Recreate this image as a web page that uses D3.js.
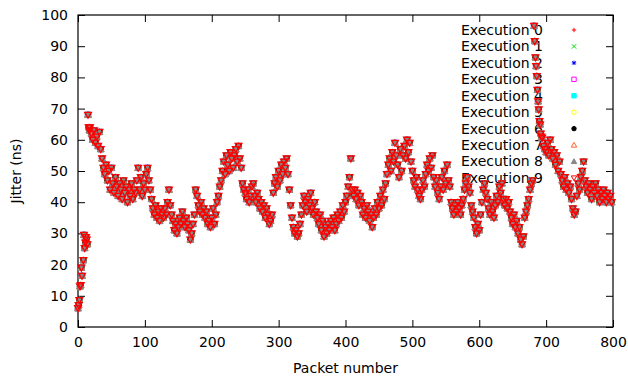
<!DOCTYPE html>
<html>
<head>
<meta charset="utf-8">
<script src="https://cdn.jsdelivr.net/npm/d3@7"></script>
<style>
  body { margin: 0; background: #fff; }
  text { font-family: "DejaVu Sans", sans-serif; font-size: 14px; fill: #000; }
</style>
</head>
<body>
<div class="jitterChart"></div>
<script>
// --- data ------------------------------------------------------------
const executions = ["Execution 0", "Execution 1", "Execution 2", "Execution 3", "Execution 4",
                    "Execution 5", "Execution 6", "Execution 7", "Execution 8", "Execution 9"];
const packetStep = 2;   // jitter[i] belongs to packet i * packetStep
const jitter = [
  6, 8.6, 13.4, 16.4, 21.4, 25.3, 28.8, 26.5, 64, 64, 62, 60, 63, 59, 61, 58, 62.5, 57, 54, 51,
  49, 52, 47, 50, 44, 51, 46, 43, 48, 45, 42, 46, 44, 41, 47, 43, 45, 40, 44, 42,
  46, 41, 44, 43, 47, 51, 44, 48, 42, 46, 44, 49, 51, 47, 44, 41, 38, 36, 39, 35,
  37, 34, 38, 36, 35, 38, 36, 40, 44, 39, 36, 34, 31, 33, 30, 32, 35, 33, 37, 34,
  32, 35, 33, 31, 28, 30, 33, 36, 44, 42, 39, 37, 40, 36, 38, 35, 37, 33, 34, 32,
  35, 38, 33, 36, 40, 42, 45, 47, 50, 53, 49, 55, 52, 50, 56, 54, 51, 55, 57, 53,
  58, 54, 51, 46, 44, 43, 41, 44, 40, 42, 45, 46, 42, 40, 43, 41, 38, 40, 37, 39,
  35, 38, 36, 33, 34, 36, 43, 46, 48, 45, 50, 47, 52, 49, 53, 51, 54, 49, 44, 39,
  35, 32, 30, 31, 29, 30, 33, 36, 39, 42, 40, 37, 41, 39, 43, 38, 36, 40, 37, 35,
  33, 36, 31, 34, 29, 32, 30, 33, 31, 34, 32, 35, 31, 33, 36, 34, 37, 35, 39, 37,
  40, 42, 45, 48, 54, 44, 42, 44, 41, 43, 39, 42, 40, 36, 38, 35, 39, 37, 34, 36,
  32, 35, 38, 36, 40, 38, 42, 39, 44, 41, 46, 49, 52, 54, 50, 56, 53, 59, 55, 52,
  48, 57, 50, 55, 58, 54, 60, 56, 59, 53, 50, 47, 45, 48, 44, 42, 41, 44, 47, 45,
  49, 52, 50, 54, 51, 55, 48, 45, 47, 43, 41, 45, 48, 44, 50, 46, 52, 47, 45, 40,
  38, 36, 39, 37, 40, 38, 36, 39, 41, 44, 46, 48, 45, 43, 39, 37, 35, 32, 30, 33,
  31, 36, 40, 44, 46, 43, 41, 38, 36, 40, 37, 35, 39, 42, 40, 45, 43, 46, 41, 39,
  41, 38, 40, 37, 35, 33, 36, 32, 34, 30, 32, 28, 26.5, 29, 35, 37, 39, 41, 44, 46,
  47, 96.5, 86.4, 80.4, 72.3, 66, 62, 60.6, 58, 57, 56, 59, 55, 60, 57, 54, 56, 52, 55, 50,
  53, 49, 47, 45, 48, 44, 46, 43, 45, 41, 38, 36, 37, 42, 46, 44, 48, 50, 53, 47,
  45, 43, 46, 44, 41, 45, 43, 46, 42, 44, 40, 43, 41, 44, 42, 40, 43, 41, 42, 40
];
// odd packets where the picture shows more detail
const extraPackets = [1, 3, 5, 9, 11, 13, 15, 17, 683, 685, 687, 689, 691, 693];
const extraJitter  = [7, 13, 19, 29.5, 27, 28, 68, 63, 91.6, 83.6, 76, 69.7, 64.9, 61];
const xTicks = [0, 100, 200, 300, 400, 500, 600, 700, 800];
const yTicks = [0, 10, 20, 30, 40, 50, 60, 70, 80, 90, 100];

// --- layout ------------------------------------------------------------
const margin = { top: 15, right: 15, bottom: 50, left: 78 };
const width = 628 - margin.left - margin.right;
const height = 377 - margin.top - margin.bottom;

const x = d3.scaleLinear().domain([0, 800]).range([0, width]);
const y = d3.scaleLinear().domain([0, 100]).range([height, 0]);

const colors = ["#ff0000", "#00dd00", "#0000ff", "#ff00ff", "#00ffff",
                "#ffff00", "#000000", "#ff6428", "#888888", "#ff0000"];

// gnuplot point types 1..10
function shape(k, r) {
  const t = r * 1.25;
  switch (k) {
    case 0: return `M${-r},0H${r}M0,${-r}V${r}`;
    case 1: return `M${-r},${-r}L${r},${r}M${-r},${r}L${r},${-r}`;
    case 2: return `M${-r},0H${r}M0,${-r}V${r}M${-r*0.75},${-r*0.75}L${r*0.75},${r*0.75}M${-r*0.75},${r*0.75}L${r*0.75},${-r*0.75}`;
    case 3:
    case 4: return `M${-r},${-r}H${r}V${r}H${-r}Z`;
    case 5:
    case 6: return `M${r},0A${r},${r} 0 1,1 ${-r},0A${r},${r} 0 1,1 ${r},0Z`;
    case 7:
    case 8: return `M0,${-t}L${t},${t*0.75}L${-t},${t*0.75}Z`;
    default: return `M0,${t}L${t},${-t*0.75}L${-t},${-t*0.75}Z`;
  }
}
const filled = k => k === 4 || k === 6 || k === 8;

const svg = d3.select(".jitterChart").append("svg")
  .attr("width", 628).attr("height", 377);
const g = svg.append("g")
  .attr("transform", "translate(" + margin.left + "," + margin.top + ")");

// axes with inward ticks, mirrored on top and right
g.append("g").attr("class", "x axis")
  .attr("transform", "translate(0," + height + ")")
  .call(d3.axisBottom(x).tickValues(xTicks).tickSizeInner(-7).tickSizeOuter(0).tickPadding(10));
g.append("g").attr("class", "y axis")
  .call(d3.axisLeft(y).tickValues(yTicks).tickSizeInner(-7).tickSizeOuter(0).tickPadding(10));
g.append("g").call(d3.axisTop(x).tickValues(xTicks).tickSizeInner(-7).tickSizeOuter(0).tickFormat(""));
g.append("g").attr("transform", "translate(" + width + ",0)")
  .call(d3.axisRight(y).tickValues(yTicks).tickSizeInner(-7).tickSizeOuter(0).tickFormat(""));
g.selectAll(".domain").remove();
g.selectAll(".tick line").attr("stroke", "#000");
g.selectAll(".tick text").style("font-size", "14px").style("font-family", "DejaVu Sans, sans-serif");

g.append("rect")
  .attr("width", width).attr("height", height)
  .attr("fill", "none").attr("stroke", "#000").attr("stroke-width", 1.2);

// axis titles
svg.append("text")
  .attr("transform", "translate(21," + (margin.top + height / 2) + ") rotate(-90)")
  .attr("text-anchor", "middle")
  .text("Jitter (ns)");
svg.append("text")
  .attr("x", margin.left + width / 2).attr("y", 373)
  .attr("text-anchor", "middle")
  .text("Packet number");

// key (drawn before the points, as in the picture)
const key = g.append("g").attr("class", "key");
executions.forEach((name, k) => {
  const ky = 15 + k * 16.44;
  key.append("text")
    .attr("x", 465).attr("y", ky).attr("dy", "0.35em")
    .attr("text-anchor", "end")
    .text(name);
  key.append("path")
    .attr("transform", "translate(496," + ky + ")")
    .attr("d", shape(k, 2.2))
    .attr("fill", filled(k) ? colors[k] : "none")
    .attr("stroke", colors[k]).attr("stroke-width", 1);
});

// points
const points = jitter.map((v, i) => ({ p: i * packetStep, v: v }))
  .concat(extraPackets.map((p, i) => ({ p: p, v: extraJitter[i] })));

executions.forEach((name, k) => {
  g.append("g").attr("class", "series")
    .selectAll("path")
    .data(points)
    .join("path")
    .attr("transform", d => "translate(" + x(d.p) + "," + y(d.v) + ")")
    .attr("d", shape(k, 2.7))
    .attr("fill", filled(k) ? colors[k] : "none")
    .attr("stroke", colors[k])
    .attr("stroke-width", k === 9 ? 1.3 : 1);
});
</script>
</body>
</html>
